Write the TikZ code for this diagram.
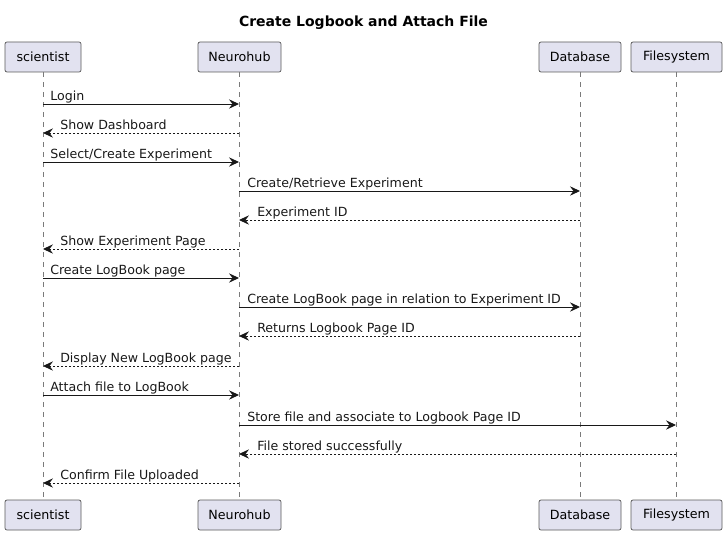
\documentclass[tikz,border=0pt]{standalone}
\usepackage{fontspec}
\setmainfont{DejaVu Sans}
\usetikzlibrary{arrows.meta}
\definecolor{boxfill}{HTML}{E2E2F0}
\definecolor{boxline}{HTML}{5A5A5A}
\definecolor{lifeline}{HTML}{7A7A7A}
\definecolor{ink}{HTML}{181818}
\tikzset{
  part/.style={draw=boxline, fill=boxfill, line width=0.55pt, rounded corners=1.5pt,
    minimum height=30*0.75pt, inner xsep=5.5pt, font=\fontsize{9.5pt}{11pt}\selectfont, text=black, anchor=center},
  life/.style={draw=lifeline, line width=0.5pt, dash pattern=on 3.75pt off 3.75pt},
  msg/.style={draw=ink, line width=0.75pt, -{Stealth[length=7.5pt,width=7pt,inset=2.6pt]}},
  ret/.style={msg, dash pattern=on 1.5pt off 1.5pt},
  lbl/.style={anchor=base west, inner sep=0pt, font=\fontsize{9.45pt}{11pt}\selectfont, text=ink},
}
\begin{document}
\begin{tikzpicture}[x=0.75pt,y=-0.75pt]
\useasboundingbox (0,0) rectangle (727,535);
\node[anchor=base, inner sep=0pt, font=\bfseries\fontsize{10.5pt}{12pt}\selectfont] (title) at (363.5,27) {Create Logbook and Attach File};
% top participants
\node[part, minimum width=76*0.75pt] (sT) at (43,57) {scientist};
\node[part, minimum width=83*0.75pt] (nT) at (239.5,57) {Neurohub};
\node[part, minimum width=82*0.75pt] (dT) at (580,57) {Database};
\node[part, minimum width=91*0.75pt] (fT) at (676.5,57) {Filesystem};
% bottom participants
\node[part, minimum width=76*0.75pt] (sB) at (43,515) {scientist};
\node[part, minimum width=83*0.75pt] (nB) at (239.5,515) {Neurohub};
\node[part, minimum width=82*0.75pt] (dB) at (580,515) {Database};
\node[part, minimum width=91*0.75pt] (fB) at (676.5,515) {Filesystem};
% lifelines
\draw[life] (sT.south) -- (sB.north);
\draw[life] (nT.south) -- (nB.north);
\draw[life] (dT.south) -- (dB.north);
\draw[life] (fT.south) -- (fB.north);
% lifeline x: s=43 n=239 d=580 f=676
\foreach \i/\y/\a/\b/\st/\tx/\t in {
  1/104/43/239/msg/50/Login,
  2/133/239/43/ret/60/Show Dashboard,
  3/162/43/239/msg/50/Select\slash Create Experiment,
  4/191/239/580/msg/247/Create\slash Retrieve Experiment,
  5/220/580/239/ret/257/Experiment ID,
  6/249/239/43/ret/60/Show Experiment Page,
  7/278/43/239/msg/50/Create LogBook page,
  8/307/239/580/msg/247/Create LogBook page in relation to Experiment ID,
  9/336/580/239/ret/257/Returns Logbook Page ID,
  10/366/239/43/ret/60/Display New LogBook page,
  11/395/43/239/msg/50/Attach file to LogBook,
  12/425/239/676/msg/247/Store file and associate to Logbook Page ID,
  13/454/676/239/ret/257/File stored successfully,
  14/483/239/43/ret/60/Confirm File Uploaded}
{
  \coordinate (m\i a) at (\a,\y);
  \coordinate (m\i b) at (\b,\y);
  \draw[\st] (m\i a) -- (m\i b);
  \node[lbl] (t\i) at (\tx,\y-4) {\t};
}
\end{tikzpicture}
\end{document}
